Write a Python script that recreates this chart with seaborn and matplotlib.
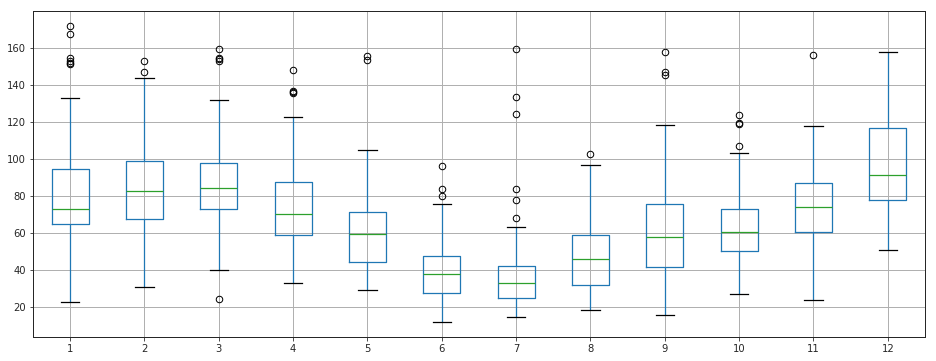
import numpy as np
import pandas as pd
import matplotlib
matplotlib.use("Agg")
import matplotlib.pyplot as plt
import seaborn as sns

# Values (box statistics per category)
months = [str(i) for i in range(1, 13)]
whisker_low = [22.7, 30.8, 39.9, 32.9, 29.2, 11.9, 14.6, 18.4, 15.7, 27.0, 23.8, 50.9]
q1 = [64.7, 67.9, 72.8, 58.8, 44.2, 27.5, 24.8, 31.8, 41.5, 50.2, 60.9, 78.2]
median = [73.3, 83.0, 84.6, 70.1, 59.8, 37.8, 32.9, 46.0, 58.2, 60.4, 73.9, 91.6]
q3 = [94.7, 99.0, 97.9, 87.9, 71.3, 47.5, 42.0, 58.8, 75.5, 72.8, 87.3, 116.9]
whisker_high = [133.1, 143.9, 132.0, 122.9, 105.1, 76.0, 63.6, 97.0, 118.5, 103.5, 118.0, 157.9]
outliers_high = [
    [151.2, 152.1, 153.0, 154.8, 167.4, 171.9],
    [147.1, 153.0],
    [153.0, 153.9, 154.6, 159.5],
    [135.6, 136.3, 137.0, 148.2],
    [153.5, 155.9],
    [80.0, 84.1, 96.1],
    [68.3, 77.8, 84.1, 124.6, 133.6, 159.5],
    [102.9],
    [145.3, 146.9, 157.9],
    [107.2, 119.1, 119.8, 123.9],
    [156.2],
    [],
]
outliers_low = [[], [], [24.3], [], [], [], [], [], [], [], [], []]


def build_sample(lo, a, m, b, hi, low_out, high_out):
    """Raw sample whose quartiles/whiskers/fliers equal the read statistics."""
    k = max(len(low_out), len(high_out)) + 2
    n = 4 * k + 1
    vals = list(low_out) + [lo]
    vals += [a] * (k + 1 - len(vals))
    vals += [m] * (2 * k + 1 - len(vals))
    vals += [b] * (3 * k + 1 - len(vals))
    rest = n - len(vals) - 1 - len(high_out)
    vals += [b] * rest + [hi] + list(high_out)
    return vals


rows = []
for i, mo in enumerate(months):
    for v in build_sample(whisker_low[i], q1[i], median[i], q3[i], whisker_high[i],
                          outliers_low[i], outliers_high[i]):
        rows.append((mo, v))
df = pd.DataFrame(rows, columns=["month", "value"])

plt.rcParams["font.family"] = ["DejaVu Sans"]
plt.rcParams["font.size"] = 10

fig = plt.figure(figsize=(936 / 72, 361 / 72), dpi=72)
ax = fig.add_axes([33 / 936, 24 / 361, 892 / 936, 325.7 / 361])

blue = "#1f77b4"
lw = 1.25
sns.boxplot(
    data=df, x="month", y="value", order=months, ax=ax,
    fill=False, width=0.5, whis=1.5, linewidth=lw,
    boxprops=dict(color=blue, linewidth=lw),
    whiskerprops=dict(color=blue, linewidth=lw),
    capprops=dict(color="black", linewidth=lw),
    medianprops=dict(color="#2ca02c", linewidth=lw),
    flierprops=dict(marker="o", markerfacecolor="none", markeredgecolor="black",
                    markersize=6.5, markeredgewidth=1),
)

ax.set_xlim(-0.5, len(months) - 0.5)
ax.set_ylim(3.9, 179.9)
ax.set_yticks([20, 40, 60, 80, 100, 120, 140, 160])
ax.grid(True, color="#b0b0b0", linewidth=1)
ax.set_axisbelow(True)
ax.set_xlabel("")
ax.set_ylabel("")
for s in ax.spines.values():
    s.set_visible(True)
    s.set_color("#262626")
    s.set_linewidth(1)
ax.tick_params(colors="#262626", labelsize=10, length=3.5, width=0.8)

fig.savefig("out.png", dpi=72, facecolor="white")
